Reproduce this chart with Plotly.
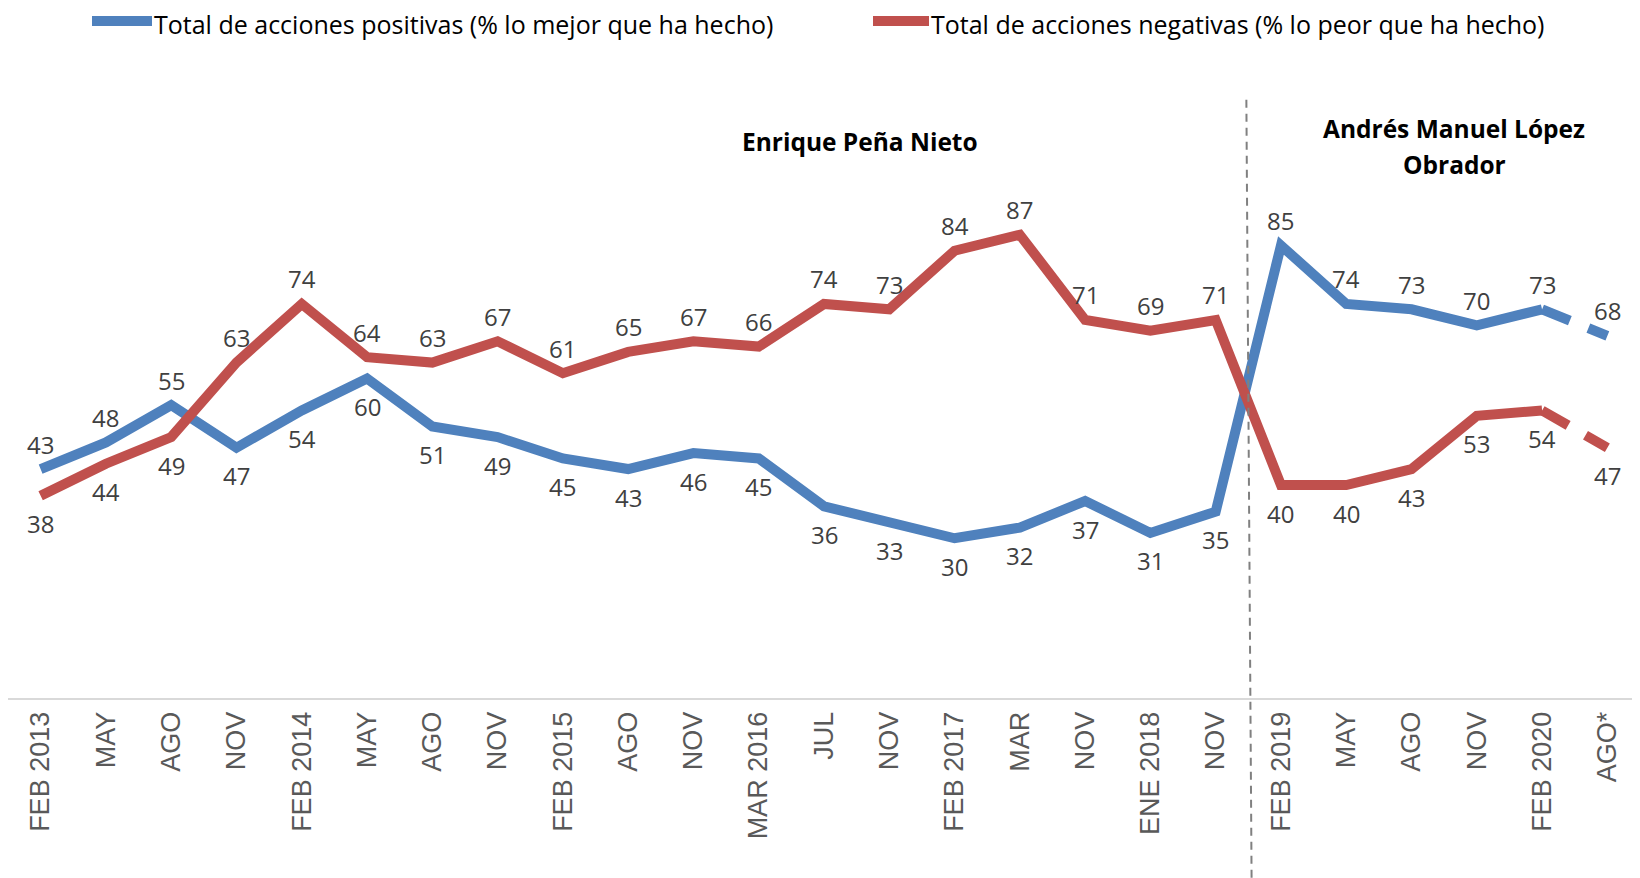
import plotly.graph_objects as go

periodos = ["FEB 2013", "MAY", "AGO", "NOV", "FEB 2014", "MAY", "AGO", "NOV", "FEB 2015", "AGO",
            "NOV", "MAR 2016", "JUL", "NOV", "FEB 2017", "MAR", "NOV", "ENE 2018", "NOV",
            "FEB 2019", "MAY", "AGO", "NOV", "FEB 2020", "AGO*"]
positivas = [43, 48, 55, 47, 54, 60, 51, 49, 45, 43, 46, 45, 36, 33, 30, 32, 37, 31, 35,
             85, 74, 73, 70, 73, 68]
negativas = [38, 44, 49, 63, 74, 64, 63, 67, 61, 65, 67, 66, 74, 73, 84, 87, 71, 69, 71,
             40, 40, 43, 53, 54, 47]
# label above (+1) or below (-1) the point
pos_lado = [1, 1, 1] + [-1] * 16 + [1] * 6
neg_lado = [-1, -1, -1] + [1] * 16 + [-1] * 6

BLUE = "#4F81BD"
RED = "#C0504D"
OFF = 8  # page body margin in the browser
W, H = 1640 - OFF, 878 - OFF
L, R, T, B = 0, 0, 91, 180
PW, PH = W - L - R, H - T - B


def px(x):
    return (x - OFF - L) / PW


def py(y):
    return (H - B - (y - OFF)) / PH


def texto(x, y, txt, size, anchor="center", bold=False):
    fig.add_annotation(x=px(x), y=py(y), xref="paper", yref="paper",
                       text=f"<b>{txt}</b>" if bold else txt, showarrow=False,
                       xanchor=anchor, yanchor="middle", borderpad=0,
                       font=dict(family="Open Sans", size=size, color="#000000"))


xs = list(range(len(periodos)))
fig = go.Figure()

for vals, color in [(positivas, BLUE), (negativas, RED)]:
    fig.add_trace(go.Scatter(x=xs[:-1], y=vals[:-1], mode="lines",
                             line=dict(color=color, width=10), showlegend=False, hoverinfo="skip"))
    fig.add_trace(go.Scatter(x=xs[-2:], y=vals[-2:], mode="lines",
                             line=dict(color=color, width=10, dash="30px,20px"),
                             showlegend=False, hoverinfo="skip"))

for vals, lados in [(positivas, pos_lado), (negativas, neg_lado)]:
    for i, (v, s) in enumerate(zip(vals, lados)):
        fig.add_annotation(x=i, y=v, text=str(v), showarrow=False,
                           xanchor="center", yanchor="middle",
                           yshift=25 if s > 0 else -28,
                           font=dict(family="Open Sans", size=24, color="#404040"))

# divider between administrations
fig.add_shape(type="line", xref="x", yref="paper", x0=18.55, x1=18.47, y0=-0.30, y1=1,
              line=dict(color="#808080", width=2, dash="8px,6px"))

texto(860, 141, "Enrique Peña Nieto", 24.5, bold=True)
texto(1454, 128, "Andrés Manuel López", 24.5, bold=True)
texto(1454, 164, "Obrador", 24.5, bold=True)

# legend drawn by hand
for x0, x1, color, txt in [(92, 152, BLUE, "Total de acciones positivas (% lo mejor que ha hecho)"),
                           (873, 929, RED, "Total de acciones negativas (% lo peor que ha hecho)")]:
    fig.add_shape(type="line", xref="paper", yref="paper", x0=px(x0), x1=px(x1), y0=py(21), y1=py(21),
                  line=dict(color=color, width=10))
    texto(x1 + 1, 24, txt, 25, anchor="left")

fig.update_layout(
    width=W, height=H,
    margin=dict(l=L, r=R, t=T, b=B),
    plot_bgcolor="white", paper_bgcolor="white",
    showlegend=False,
    xaxis=dict(tickmode="array", tickvals=xs, ticktext=periodos, tickangle=-90,
               range=[-0.5, len(periodos) - 0.5], showgrid=False, zeroline=False,
               showline=True, linecolor="#D9D9D9", linewidth=2, ticks="",
               ticklabelstandoff=1, automargin=False,
               tickfont=dict(family="Liberation Sans", size=27, color="#595959")),
    yaxis=dict(range=[0, 112.5], visible=False, showgrid=False, automargin=False),
)
fig.write_html("out.html")
